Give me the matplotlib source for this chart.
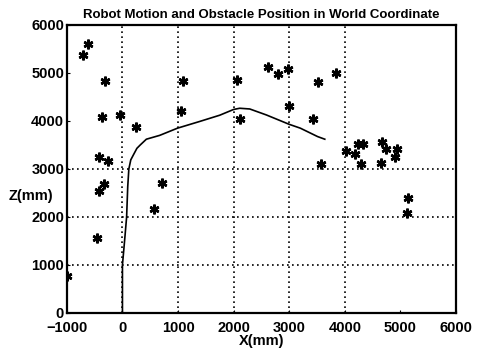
import matplotlib
matplotlib.use("Agg")
import matplotlib.pyplot as plt
import numpy as np

plt.rcParams['font.family'] = ['Liberation Sans', 'DejaVu Sans']

# robot trajectory (mm)
path_x = [0, 0, 45, 75, 95, 115, 150, 200, 260, 320, 430, 670, 990,
          1390, 1750, 2000, 2110, 2290, 2590, 3000, 3200, 3510, 3640]
path_z = [0, 1000, 1590, 2000, 2630, 3000, 3190, 3300, 3430, 3500, 3620,
          3700, 3850, 3990, 4120, 4240, 4265, 4250, 4125, 3930, 3850, 3675, 3620]

# obstacle positions (mm)
obs_x = [-620, -710, -320, -375, -45, 240, -420, -255, -330, -425, -465,
         565, -1000, 1090, 1045, 2065, 2115, 2620, 2800, 2980, 2995, 720,
         3510, 3845, 3420, 3565, 4020, 4185, 4235, 4330, 4300, 4665, 4740,
         4935, 4900, 4655, 5140, 5115]
obs_z = [5600, 5380, 4830, 4090, 4130, 3880, 3250, 3160, 2680, 2540, 1570,
         2170, 765, 4830, 4200, 4855, 4035, 5125, 4970, 5075, 4305, 2700,
         4820, 4995, 4035, 3100, 3375, 3310, 3520, 3520, 3100, 3555, 3425,
         3410, 3255, 3130, 2400, 2090]

xticks = [-1000, 0, 1000, 2000, 3000, 4000, 5000, 6000]
yticks = [0, 1000, 2000, 3000, 4000, 5000, 6000]

fig = plt.figure(figsize=(4.81, 3.52), dpi=100)
ax = fig.add_axes([0.139, 0.111, 0.809, 0.818])

# dotted grid
for gx in [0, 1000, 2000, 3000, 4000]:
    ax.axvline(gx, color='black', linestyle=(0, (1, 2)), linewidth=1.2, zorder=1)
for gz in [1000, 2000, 3000]:
    ax.axhline(gz, color='black', linestyle=(0, (1, 2)), linewidth=1.2, zorder=1)

ax.plot(path_x, path_z, color='black', linewidth=1.2, zorder=2)
ax.plot(obs_x, obs_z, linestyle='none', marker=(6, 2, 0), markersize=7,
        markeredgewidth=1.8, color='black', zorder=3)
ax.plot(obs_x, obs_z, linestyle='none', marker='o', markersize=3,
        color='black', zorder=3)

ax.set_xlim(-1000, 6000)
ax.set_ylim(0, 6000)
ax.set_xticks(xticks)
ax.set_yticks(yticks)
ax.tick_params(direction='in', length=2, labelsize=10.5)
ax.tick_params(axis='x', pad=6)
ax.tick_params(axis='y', pad=2)
for lab in ax.get_xticklabels() + ax.get_yticklabels():
    lab.set_fontweight('bold')
for sp in ax.spines.values():
    sp.set_linewidth(1.6)

ax.set_xlabel("X(mm)", fontsize=10.5, fontweight='bold', labelpad=-1)
ax.set_ylabel("Z(mm)", fontsize=10.5, fontweight='bold', rotation=0,
              ha='center', va='center')
ax.yaxis.set_label_coords(-0.093, 0.406)
ax.set_title("Robot Motion and Obstacle Position in World Coordinate",
             fontsize=9.5, fontweight='bold', pad=5)

fig.savefig("out.png", dpi=100)
